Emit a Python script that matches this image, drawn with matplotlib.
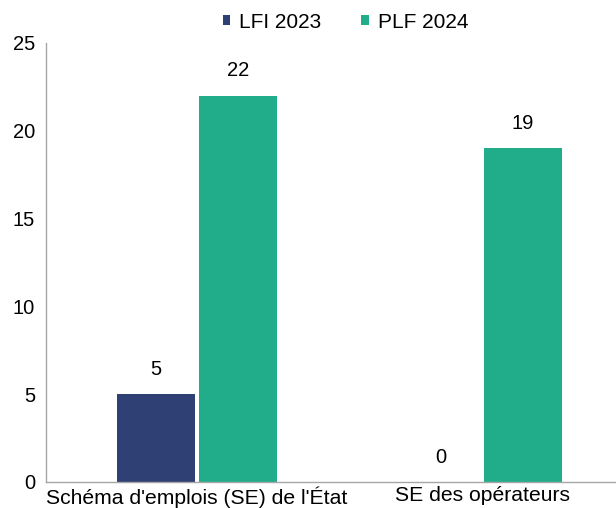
import matplotlib
matplotlib.use("Agg")
import matplotlib.pyplot as plt
import numpy as np

plt.rcParams['font.family'] = ['Liberation Sans', 'DejaVu Sans']

categories = ["Schéma d'emplois (SE) de l'État", "SE des opérateurs"]
series_names = ["LFI 2023", "PLF 2024"]
lfi_2023 = [5, 0]
plf_2024 = [22, 19]
colors = ["#2F4074", "#22AD8A"]

fig = plt.figure(figsize=(6.16, 5.08), dpi=100)
ax = fig.add_axes([0.0747, 0.0512, 0.9253, 0.8642])

x = np.arange(len(categories))
w = 0.274
b1 = ax.bar(x - 0.143, lfi_2023, width=w, color=colors[0], label=series_names[0])
b2 = ax.bar(x + 0.143, plf_2024, width=w, color=colors[1], label=series_names[1])

for bars, vals in ((b1, lfi_2023), (b2, plf_2024)):
    for rect, v in zip(bars, vals):
        ax.annotate(f"{v}", (rect.get_x() + rect.get_width() / 2, v),
                    xytext=(0, 11), textcoords="offset points",
                    ha="center", va="bottom", fontsize=14.5)

ax.set_xlim(-0.53, 1.47)
ax.set_ylim(0, 25)
ax.set_yticks([0, 5, 10, 15, 20, 25])
ax.set_xticks(x)
ax.tick_params(axis='both', length=0, labelsize=14.5)
ax.set_xticklabels(categories, fontsize=15.2)
ax.tick_params(axis='y', pad=8)
ax.tick_params(axis='x', pad=3)
for s in ("top", "right"):
    ax.spines[s].set_visible(False)
for s in ("left", "bottom"):
    ax.spines[s].set_color("#A6A6A6")
    ax.spines[s].set_linewidth(1.0)

leg = fig.legend(handles=[b1, b2], labels=series_names, loc="center",
                 bbox_to_anchor=(0.561, 0.956), ncol=2, frameon=False,
                 fontsize=15, handlelength=0.35, handleheight=0.35,
                 handletextpad=0.45, columnspacing=1.9)

fig.savefig("out.png", dpi=100)
